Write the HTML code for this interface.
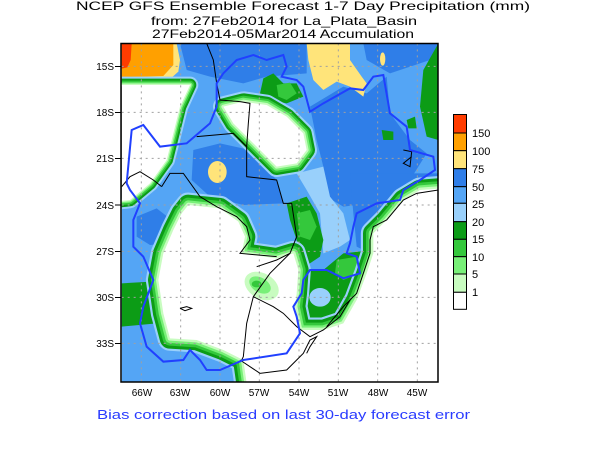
<!DOCTYPE html>
<html><head><meta charset="utf-8"><style>
html,body{margin:0;padding:0;background:#fff;}
svg{display:block;}
text{font-family:"Liberation Sans",sans-serif;}
</style></head><body>
<svg width="600" height="450" viewBox="0 0 600 450" xmlns="http://www.w3.org/2000/svg">
<rect width="600" height="450" fill="#fff"/>
<text x="76" y="10" font-size="12" textLength="454" lengthAdjust="spacingAndGlyphs">NCEP GFS Ensemble Forecast 1-7 Day Precipitation (mm)</text>
<text x="151" y="25" font-size="12" textLength="266" lengthAdjust="spacingAndGlyphs">from: 27Feb2014   for La_Plata_Basin</text>
<text x="152" y="38" font-size="12" textLength="262" lengthAdjust="spacingAndGlyphs">27Feb2014-05Mar2014 Accumulation</text>
<defs><clipPath id="c"><rect x="35" y="10" width="950" height="1015"/></clipPath></defs>
<g transform="translate(110,40) scale(0.33333)">
<g clip-path="url(#c)">
<rect x="35" y="10" width="950" height="1015" fill="#54a5f5"/>
<g fill="#2f7ee8">
<polygon points="210,10 590,10 590,100 470,110 400,130 300,110 230,90"/>
<polygon points="760,10 985,10 960,60 840,100 770,60"/>
<polygon points="250,330 330,310 420,330 500,420 520,490 400,495 300,470 245,420"/>
<polygon points="80,530 140,505 185,540 180,610 120,615 80,590"/>
<polygon points="600,200 700,140 770,160 830,110 840,220 900,300 950,340 900,420 860,470 780,490 700,500 650,470 640,380 620,300"/>
<polygon points="720,400 985,400 985,440 930,450 880,480 830,540 790,580 780,640 740,620 730,520"/>
</g>
<polygon fill="#99d0fb" points="560,400 640,380 660,470 700,520 720,600 690,620 640,640 630,520 590,450"/>
<polygon fill="#99d0fb" points="35,120 250,120 240,140 35,140"/>
<polygon fill="#ffe47a" points="35,10 200,10 210,60 205,95 175,122 35,120"/>
<polygon fill="#ffa000" points="35,10 190,10 190,75 160,108 35,112"/>
<polygon fill="#ff3c00" points="35,10 65,10 62,60 52,82 35,86"/>
<polygon fill="#ffe47a" points="590,10 720,10 720,60 755,110 770,130 760,170 720,140 680,125 640,150 610,120 595,60"/>
<ellipse fill="#ffe47a" cx="818" cy="57" rx="8" ry="20"/>
<ellipse fill="#ffe47a" cx="322" cy="396" rx="28" ry="33"/>
<g fill="#0c9c16">
<polygon points="530,490 590,470 620,520 640,600 630,650 570,690 560,600 540,540"/>
<polygon points="940,90 985,10 985,300 950,290 930,200"/>
<polygon points="815,270 850,275 850,300 820,300"/>
<polygon points="890,240 915,230 920,265 895,265"/>
<polygon points="460,115 490,100 520,130 560,130 580,170 530,190 480,180 450,160"/>
</g>
<polygon fill="#34c83c" points="500,135 540,128 560,160 530,180 505,170"/>
<polygon fill="#34c83c" points="560,520 600,510 620,560 600,600 570,590"/>
<polygon fill="#0c9c16" points="580,690 640,690 700,640 790,630 800,660 770,700 740,780 700,830 650,870 590,840 560,800 570,730"/>
<polygon fill="#34c83c" points="680,660 740,650 750,700 700,720 675,700"/>
<ellipse fill="#99d0fb" cx="630" cy="772" rx="32" ry="28"/>
<polygon fill="#0c9c16" points="35,730 125,725 140,850 35,860"/>
<g stroke-linejoin="round">
<g fill="none">
<path id="w1" d="M235,495 L330,505 385,545 405,590 395,640 500,655 550,640 565,690 560,760 555,800 570,870 640,870 700,850 740,780 770,700 790,640 790,580 830,540 880,480 930,450 1060,440 1060,1100 420,1100 400,960 340,930 260,900 180,895 160,820 145,720 160,640 190,570 215,520Z"/>
<path id="w2" d="M340,200 L400,185 470,195 530,230 580,280 590,330 560,370 500,380 470,350 420,300 370,250Z"/>
<path id="w3" d="M-40,135 L240,135 210,200 190,280 170,360 120,430 60,480 -40,490Z"/>
</g>
<use href="#w1" stroke="#99d0fb" stroke-width="75"/>
<use href="#w1" stroke="#0c9c16" stroke-width="62"/>
<use href="#w1" stroke="#34c83c" stroke-width="44"/>
<use href="#w1" stroke="#78f078" stroke-width="28"/>
<use href="#w1" stroke="#c8fcc0" stroke-width="14"/>
<use href="#w1" fill="#fff"/>
<use href="#w2" stroke="#99d0fb" stroke-width="62"/>
<use href="#w2" stroke="#0c9c16" stroke-width="50"/>
<use href="#w2" stroke="#34c83c" stroke-width="36"/>
<use href="#w2" stroke="#78f078" stroke-width="24"/>
<use href="#w2" stroke="#c8fcc0" stroke-width="12"/>
<use href="#w2" fill="#fff"/>
<use href="#w3" stroke="#99d0fb" stroke-width="50"/>
<use href="#w3" stroke="#0c9c16" stroke-width="38"/>
<use href="#w3" stroke="#34c83c" stroke-width="26"/>
<use href="#w3" stroke="#78f078" stroke-width="16"/>
<use href="#w3" stroke="#c8fcc0" stroke-width="8"/>
<use href="#w3" fill="#fff"/>
</g>
<ellipse cx="455" cy="738" rx="55" ry="38" fill="#c8fcc0" transform="rotate(30 455 738)"/>
<ellipse cx="450" cy="735" rx="35" ry="22" fill="#78f078" transform="rotate(30 450 735)"/>
<ellipse cx="440" cy="732" rx="15" ry="10" fill="#34c83c"/>
<g stroke="#a0a0a0" stroke-width="1" stroke-dasharray="2,4">
<line x1="94" y1="10" x2="94" y2="1025" vector-effect="non-scaling-stroke"/>
<line x1="212" y1="10" x2="212" y2="1025" vector-effect="non-scaling-stroke"/>
<line x1="330" y1="10" x2="330" y2="1025" vector-effect="non-scaling-stroke"/>
<line x1="448" y1="10" x2="448" y2="1025" vector-effect="non-scaling-stroke"/>
<line x1="567" y1="10" x2="567" y2="1025" vector-effect="non-scaling-stroke"/>
<line x1="685" y1="10" x2="685" y2="1025" vector-effect="non-scaling-stroke"/>
<line x1="803" y1="10" x2="803" y2="1025" vector-effect="non-scaling-stroke"/>
<line x1="922" y1="10" x2="922" y2="1025" vector-effect="non-scaling-stroke"/>
<line x1="35" y1="79" x2="985" y2="79" vector-effect="non-scaling-stroke"/>
<line x1="35" y1="217" x2="985" y2="217" vector-effect="non-scaling-stroke"/>
<line x1="35" y1="355" x2="985" y2="355" vector-effect="non-scaling-stroke"/>
<line x1="35" y1="495" x2="985" y2="495" vector-effect="non-scaling-stroke"/>
<line x1="35" y1="634" x2="985" y2="634" vector-effect="non-scaling-stroke"/>
<line x1="35" y1="772" x2="985" y2="772" vector-effect="non-scaling-stroke"/>
<line x1="35" y1="910" x2="985" y2="910" vector-effect="non-scaling-stroke"/>
</g>
<g fill="none" stroke="#000" stroke-width="1">
<polyline vector-effect="non-scaling-stroke" points="290,10 310,60 320,130 330,180 390,185 420,190 415,250 410,320 410,410 500,420 520,490 545,490 560,590 540,640 500,660 440,680"/>
<polyline vector-effect="non-scaling-stroke" points="260,290 370,280 410,320"/>
<polyline vector-effect="non-scaling-stroke" points="155,440 180,400 220,400 270,470 320,500 380,530 410,560 420,600 390,640 500,650"/>
<polyline vector-effect="non-scaling-stroke" points="540,640 480,700 430,770 410,850 400,950 395,960"/>
<polyline vector-effect="non-scaling-stroke" points="430,770 490,800 520,820 560,860 600,890 640,870 690,830 720,780"/>
<polyline vector-effect="non-scaling-stroke" points="985,450 920,460 880,480 830,540 790,560 780,600 780,640 760,700 740,760 700,800 650,860"/>
<polyline vector-effect="non-scaling-stroke" points="390,960 450,1000 530,990 580,940 600,900 620,890 600,920 590,940"/>
<polyline vector-effect="non-scaling-stroke" points="35,440 60,410 90,395 130,420 155,440"/>
<polyline vector-effect="non-scaling-stroke" points="210,805 230,800 245,805 225,812 210,805"/>
<polyline vector-effect="non-scaling-stroke" points="880,330 905,335 900,380 880,370 905,350"/>
</g>
<polygon fill="none" stroke="#2040ff" stroke-width="2" vector-effect="non-scaling-stroke" points="50,430 65,270 100,255 150,320 230,310 300,250 320,200 320,130 340,100 380,60 430,45 470,60 520,45 530,80 515,110 560,120 580,140 600,215 640,190 720,145 760,150 790,110 820,105 840,220 890,260 900,330 970,350 975,390 930,420 880,450 870,480 800,490 740,520 730,560 720,610 710,640 740,650 750,700 700,715 650,690 600,690 580,720 575,760 550,800 560,830 570,880 530,940 400,960 330,990 290,990 270,960 240,930 220,960 160,965 110,920 90,850 100,800 130,720 100,650 70,620 70,540 90,490 60,450"/>
</g>
</g>
<rect x="121" y="43.5" width="317" height="338.5" fill="none" stroke="#000" stroke-width="1.5"/>
<g stroke="#000" stroke-width="1">
<line x1="115" y1="66.5" x2="121" y2="66.5"/><line x1="115" y1="112.5" x2="121" y2="112.5"/><line x1="115" y1="158.5" x2="121" y2="158.5"/><line x1="115" y1="205" x2="121" y2="205"/><line x1="115" y1="251.5" x2="121" y2="251.5"/><line x1="115" y1="297.5" x2="121" y2="297.5"/><line x1="115" y1="343.5" x2="121" y2="343.5"/>
</g>
<g font-size="10" text-anchor="end">
<text x="114" y="70">15S</text><text x="114" y="116">18S</text><text x="114" y="162">21S</text><text x="114" y="209">24S</text><text x="114" y="255">27S</text><text x="114" y="301">30S</text><text x="114" y="347">33S</text>
</g>
<g font-size="10" text-anchor="middle">
<text x="142" y="396">66W</text><text x="180" y="396">63W</text><text x="220" y="396">60W</text><text x="259" y="396">57W</text><text x="299" y="396">54W</text><text x="338" y="396">51W</text><text x="378" y="396">48W</text><text x="417" y="396">45W</text>
</g>
<g stroke="#000" stroke-width="1">
<rect x="453.5" y="114.5" width="13" height="18.5" fill="#ff3c00"/>
<rect x="453.5" y="133" width="13" height="17.7" fill="#ffa000"/>
<rect x="453.5" y="150.7" width="13" height="18" fill="#ffe47a"/>
<rect x="453.5" y="168.7" width="13" height="18" fill="#2f7ee8"/>
<rect x="453.5" y="186.7" width="13" height="16.6" fill="#54a5f5"/>
<rect x="453.5" y="203.3" width="13" height="18.4" fill="#99d0fb"/>
<rect x="453.5" y="221.7" width="13" height="17.6" fill="#0c9c16"/>
<rect x="453.5" y="239.3" width="13" height="17.4" fill="#34c83c"/>
<rect x="453.5" y="256.7" width="13" height="17.3" fill="#78f078"/>
<rect x="453.5" y="274" width="13" height="18.3" fill="#c8fcc0"/>
<rect x="453.5" y="292.3" width="13" height="17" fill="#fff"/>
</g>
<g font-size="11">
<text x="472" y="137">150</text><text x="472" y="155">100</text><text x="472" y="173">75</text><text x="472" y="191">50</text><text x="472" y="208">25</text><text x="472" y="226">20</text><text x="472" y="243">15</text><text x="472" y="261">10</text><text x="472" y="278">5</text><text x="472" y="296">1</text>
</g>
<text x="97" y="419" font-size="13" fill="#2a3cff" textLength="373" lengthAdjust="spacingAndGlyphs">Bias correction based on last 30-day forecast error</text>
</svg>
</body></html>
